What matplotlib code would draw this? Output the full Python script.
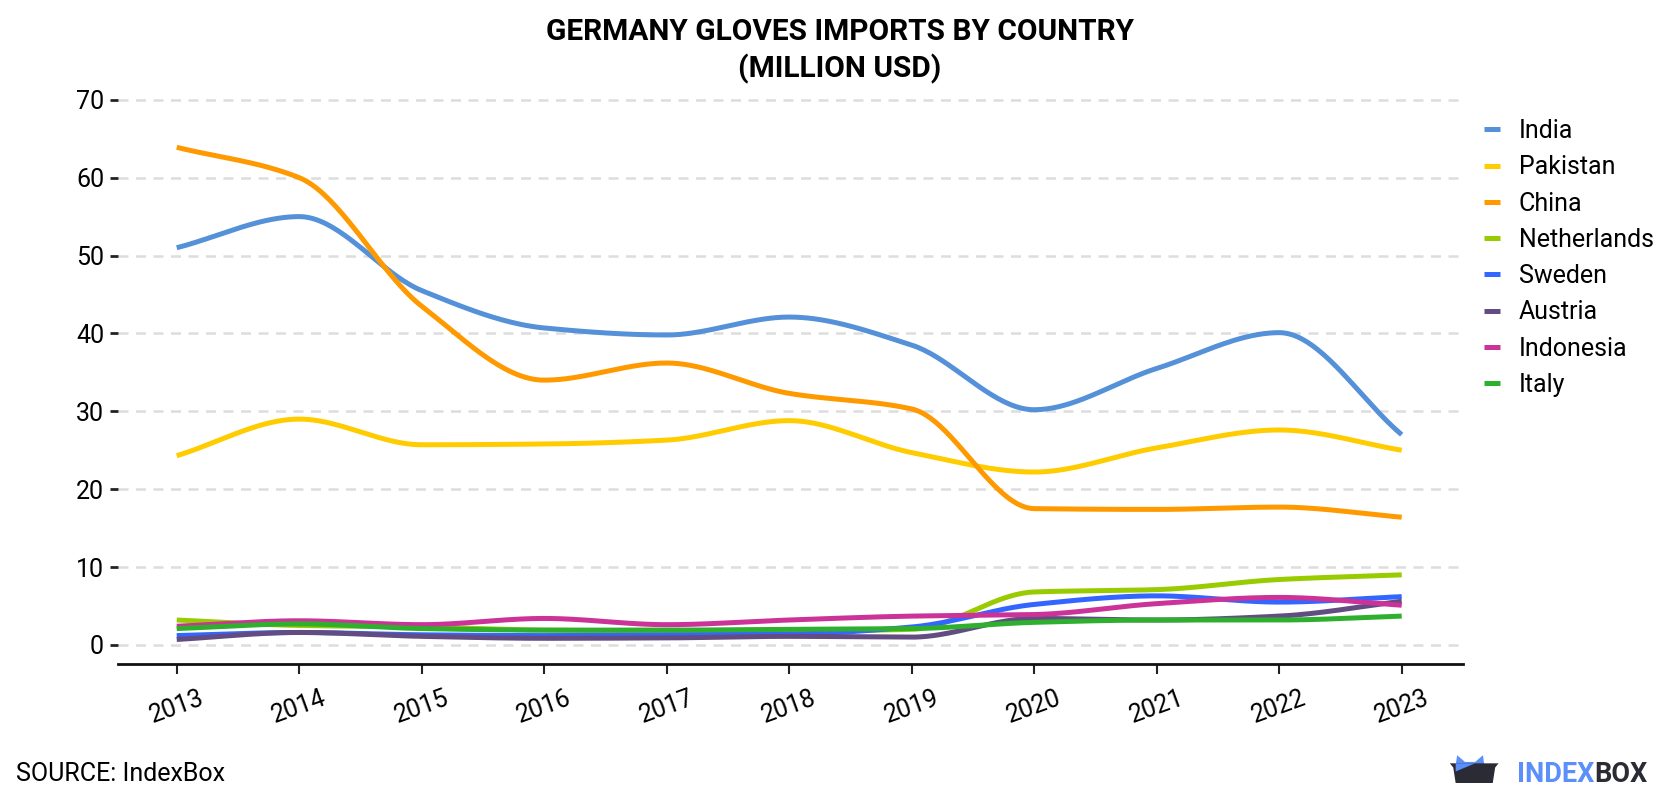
import numpy as np
import matplotlib
matplotlib.use("Agg")
import matplotlib.pyplot as plt
from matplotlib.patches import Polygon

plt.rcParams['font.family'] = ['Roboto', 'DejaVu Sans']

years = [2013, 2014, 2015, 2016, 2017, 2018, 2019, 2020, 2021, 2022, 2023]

india = [51.0, 55.0, 45.5, 40.7, 39.8, 42.1, 38.5, 30.2, 35.5, 40.1, 27.0]
pakistan = [24.3, 29.0, 25.7, 25.8, 26.3, 28.8, 24.7, 22.2, 25.3, 27.6, 25.0]
china = [63.9, 60.0, 43.5, 34.0, 36.2, 32.3, 30.3, 17.5, 17.4, 17.7, 16.4]
netherlands = [3.2, 2.5, 2.3, 1.9, 1.8, 1.8, 2.0, 6.8, 7.1, 8.4, 9.0]
sweden = [1.2, 1.6, 1.3, 1.2, 1.3, 1.4, 2.3, 5.2, 6.3, 5.5, 6.2]
austria = [0.7, 1.6, 1.1, 0.85, 0.9, 1.1, 1.0, 3.4, 3.2, 3.7, 5.6]
indonesia = [2.4, 3.1, 2.6, 3.4, 2.6, 3.2, 3.7, 3.9, 5.3, 6.1, 5.1]
italy = [2.1, 2.7, 2.1, 1.9, 1.9, 2.0, 2.1, 2.9, 3.2, 3.2, 3.7]

series = [
    ('India', india, '#5591d8'),
    ('Pakistan', pakistan, '#ffcc00'),
    ('China', china, '#ff9900'),
    ('Netherlands', netherlands, '#99cc00'),
    ('Sweden', sweden, '#3366ff'),
    ('Austria', austria, '#624c82'),
    ('Indonesia', indonesia, '#cc3399'),
    ('Italy', italy, '#2eaf2e'),
]


def monotone_curve(x, y, n=40):
    # Fritsch-Carlson monotone cubic, only used to draw the smooth line
    x = np.asarray(x, float)
    y = np.asarray(y, float)
    h = np.diff(x)
    d = np.diff(y) / h
    m = np.zeros_like(y)
    m[0], m[-1] = d[0], d[-1]
    for i in range(1, len(y) - 1):
        if d[i - 1] * d[i] <= 0:
            m[i] = 0
        else:
            w1 = 2 * h[i] + h[i - 1]
            w2 = h[i] + 2 * h[i - 1]
            m[i] = (w1 + w2) / (w1 / d[i - 1] + w2 / d[i])
    xs, ys = [], []
    for i in range(len(x) - 1):
        t = np.linspace(0, 1, n, endpoint=(i == len(x) - 2))
        h00 = 2 * t**3 - 3 * t**2 + 1
        h10 = t**3 - 2 * t**2 + t
        h01 = -2 * t**3 + 3 * t**2
        h11 = t**3 - t**2
        xs.append(x[i] + t * h[i])
        ys.append(h00 * y[i] + h10 * h[i] * m[i] + h01 * y[i + 1] + h11 * h[i] * m[i + 1])
    return np.concatenate(xs), np.concatenate(ys)


fig = plt.figure(figsize=(16.8, 8), dpi=100)
ax = fig.add_axes([0.0702, 0.17, 0.8006, 0.715])

for name, vals, col in series:
    xs, ys = monotone_curve(years, vals)
    ax.plot(xs, ys, color=col, lw=3.6, label=name, solid_capstyle='butt')

ax.set_xlim(2012.52, 2023.5)
ax.set_ylim(-2.45, 71)
ax.set_yticks(range(0, 71, 10))
ax.set_xticks(years)
ax.set_xticklabels([str(y) for y in years], rotation=20)
ax.yaxis.grid(True, color='#dddddd', lw=1.8, linestyle=(0, (4, 3)))
ax.set_axisbelow(True)
for s in ['top', 'right', 'left']:
    ax.spines[s].set_visible(False)
ax.spines['bottom'].set_linewidth(2)
ax.spines['bottom'].set_color('#111111')
ax.tick_params(axis='y', length=6, width=2, color='#222222', labelsize=18, pad=4)
ax.tick_params(axis='x', length=7, width=1.5, color='#222222', labelsize=18, pad=9)

leg = fig.legend(loc='upper left', bbox_to_anchor=(0.8833, 0.851), frameon=False,
                 fontsize=18, handlelength=0.64, handletextpad=0.76, labelspacing=0.49,
                 borderpad=0, borderaxespad=0)
for line in leg.get_lines():
    line.set_linewidth(3.6)

fig.text(0.5, 0.977, 'GERMANY GLOVES IMPORTS BY COUNTRY\n(MILLION USD)', ha='center', va='top',
         fontsize=21.5, fontweight='bold', linespacing=1.3)
fig.text(0.0095, 0.033, 'SOURCE: IndexBox', fontsize=18, va='center', ha='left')

# logo: "INDEX" in blue directly followed by "BOX" in dark
t1 = fig.text(0.903, 0.0229, 'INDEX', color='#5b8ff9', fontsize=19.5, fontweight='bold',
              va='baseline', ha='left')
fig.canvas.draw()
bb = t1.get_window_extent().transformed(fig.transFigure.inverted())
fig.text(bb.x1, 0.0229, 'BOX', color='#2b2b35', fontsize=19.5, fontweight='bold',
         va='baseline', ha='left')
lax = fig.add_axes([0.863, 0.021, 0.029, 0.035])
lax.set_xlim(0, 1)
lax.set_ylim(0, 1)
lax.axis('off')
lax.add_patch(Polygon([[0.10, 0.41], [0.15, 1.0], [0.31, 0.76], [0.52, 0.76], [0.68, 1.0], [0.72, 0.47]],
                      closed=True, color='#5b8ff9', lw=0))
lax.add_patch(Polygon([[0.0, 0.71], [1.0, 0.71], [0.93, 0.56], [0.88, 0.0], [0.12, 0.0], [0.07, 0.56]],
                      closed=True, color='#2b2b35', lw=0))
lax.add_patch(Polygon([[0.12, 0.71], [0.52, 0.71], [0.12, 0.42]], closed=True, color='#5b8ff9', lw=0))

fig.savefig('out.png', dpi=100)
